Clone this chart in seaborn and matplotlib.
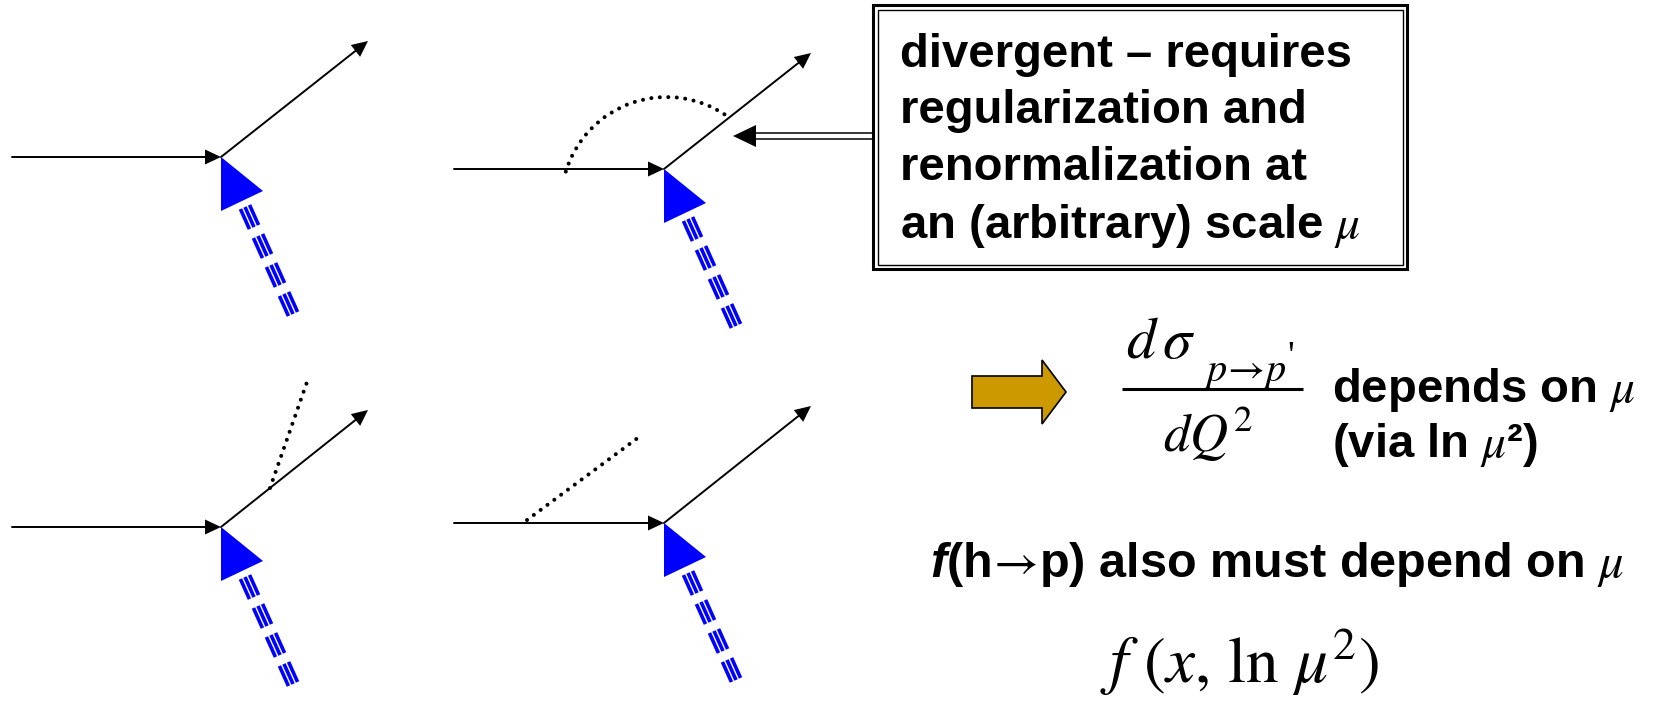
import numpy as np
import pandas as pd
import seaborn as sns
import matplotlib.pyplot as plt
from matplotlib.patches import Polygon, Rectangle, Arc

# Diagram data (pixel coordinates of the slide, y pointing down)
diagrams = ['tree', 'vertex correction', 'final-state gluon', 'initial-state gluon']
line_start = [(12, 157), (454, 169), (12, 527), (454, 523)]
vertex = [(221, 157), (664, 169), (221, 527), (664, 523)]
line_end = [(368, 41), (811, 53), (368, 410), (811, 406)]

# dotted gluon lines
gluon_lines = [((270, 488), (307, 382)), ((527, 520), (639, 437))]
gluon_arc = {'center': (666.6, 202.4), 'radius': 105.4, 'theta': (197, 305)}

# blue triangle (photon/probe) and triple dashed line, relative to the vertex
triangle_shape = [(0, 0), (42, 34), (0, 54)]
probe_start = (24, 50)
probe_end = (72, 157)
n_dashes = 4

box_lines = ['divergent \u2013 requires', 'regularization and',
             'renormalization at', r'an (arbitrary) scale $\mu$']
box_baselines = [67, 123, 180, 238]

W, H = 1654, 702

sns.set_theme(style='white')
plt.rcParams['font.family'] = ['Liberation Sans', 'DejaVu Sans']
plt.rcParams['mathtext.fontset'] = 'stix'
plt.rcParams['text.color'] = 'black'

fig = plt.figure(figsize=(W / 100, H / 100), dpi=100)
ax = fig.add_axes([0, 0, 1, 1])


def head(tip, direction, length=16, half=7.5, color='black'):
    d = np.asarray(direction, float)
    d = d / np.linalg.norm(d)
    n = np.array([-d[1], d[0]])
    tip = np.asarray(tip, float)
    base = tip - d * length
    ax.add_patch(Polygon([tip, base + n * half, base - n * half], closed=True,
                         facecolor=color, edgecolor='none', zorder=4))
    return base


# solid fermion lines through seaborn
rows = []
for i in range(len(diagrams)):
    s, v, e = np.array(line_start[i]), np.array(vertex[i]), np.array(line_end[i])
    b_in = head(v, v - s)
    b_out = head(e, e - v)
    rows += [(f'{i}a', s[0], s[1]), (f'{i}a', b_in[0] + 2, b_in[1]),
             (f'{i}b', v[0], v[1]), (f'{i}b', b_out[0], b_out[1])]
seg = pd.DataFrame(rows, columns=['seg', 'x', 'y'])
sns.lineplot(data=seg, x='x', y='y', units='seg', estimator=None, sort=False,
             color='black', lw=1.4, ax=ax, legend=False)

# blue triangles and triple dashed probe lines
u = np.subtract(probe_end, probe_start).astype(float)
total = np.linalg.norm(u)
u /= total
nrm = np.array([-u[1], u[0]])
dash = 22.0
period = (total - dash) / (n_dashes - 1)
for v in vertex:
    v = np.asarray(v, float)
    ax.add_patch(Polygon(v + np.array(triangle_shape), closed=True,
                         facecolor='#0000FF', edgecolor='none', zorder=3))
    p0 = v + np.array(probe_start)
    for k in range(n_dashes):
        a = p0 + u * period * k
        b = a + u * dash
        for off in (-5.0, 0, 5.0):
            ax.plot([a[0] + nrm[0] * off, b[0] + nrm[0] * off],
                    [a[1] + nrm[1] * off, b[1] + nrm[1] * off],
                    color='#0000FF', lw=2.6, solid_capstyle='butt')

# dotted gluons
dot_style = dict(color='black', lw=2.9, linestyle=(0, (0.01, 2.1)),
                 dash_capstyle='round')
for (x0, y0), (x1, y1) in gluon_lines:
    ax.plot([x0, x1], [y0, y1], **dot_style)
arc = Arc(gluon_arc['center'], 2 * gluon_arc['radius'], 2 * gluon_arc['radius'],
          theta1=gluon_arc['theta'][0], theta2=gluon_arc['theta'][1],
          edgecolor='black', lw=2.9, linestyle=(0, (0.01, 2.1)))
arc.set_capstyle('round')
ax.add_patch(arc)

# double-lined box with text
ax.add_patch(Rectangle((873, 5), 1407 - 873, 269 - 5, fill=False,
                       edgecolor='black', lw=2.2))
ax.add_patch(Rectangle((877.5, 9.5), 1402.5 - 877.5, 264.5 - 9.5, fill=False,
                       edgecolor='black', lw=1.0))
for txt, yb in zip(box_lines, box_baselines):
    ax.text(900, yb, txt, fontsize=34, fontweight='bold', va='baseline', ha='left')

# double arrow pointing from box to the loop
ax.plot([753, 873], [133.2, 133.2], color='black', lw=1.1)
ax.plot([753, 873], [138.6, 138.6], color='black', lw=1.1)
ax.add_patch(Polygon([(733, 136), (756, 125), (756, 147)], closed=True,
                     facecolor='black', edgecolor='none'))

# gold block arrow
ax.add_patch(Polygon([(972, 376), (1042, 376), (1042, 360), (1066, 392),
                      (1042, 424), (1042, 408), (972, 408)], closed=True,
                     facecolor='#CC9900', edgecolor='black', lw=1.2))

# d sigma / dQ^2
ax.text(1126, 358, r'$d\,\sigma$', fontsize=42, va='baseline', ha='left')
ax.text(1203, 381, r"$p\!\rightarrow\!p$", fontsize=29, va='baseline', ha='left')
ax.text(1287, 367, "'", fontsize=27, family='Liberation Serif', va='baseline', ha='left')
ax.plot([1122, 1303], [389, 389], color='black', lw=2.2, solid_capstyle='butt')
ax.text(1163, 452, r'$dQ^{2}$', fontsize=38, va='baseline', ha='left')

ax.text(1332, 402, r'depends on $\mu$', fontsize=34, fontweight='bold',
        va='baseline', ha='left')
ax.text(1332, 457, '(via ln $\\mu$\u00b2)', fontsize=34, fontweight='bold',
        va='baseline', ha='left')

# f(h->p) also must depend on mu
t_f = ax.text(930, 577, 'f', fontsize=35, fontweight='bold', fontstyle='italic',
              va='baseline', ha='left')
ax.set_xlim(0, W)
ax.set_ylim(H, 0)
ax.set_axis_off()
fig.canvas.draw()
bb = t_f.get_window_extent()
x_next = ax.transData.inverted().transform((bb.x1, bb.y0))[0]
ax.text(x_next, 577, r'(h$\!\rightarrow\!$p) also must depend on $\mu$',
        fontsize=35, fontweight='bold', va='baseline', ha='left')

ax.text(1100, 683, r'$f\ (x,\,\ln\,\mu^{2})$', fontsize=47, va='baseline', ha='left')

fig.savefig('out.png', dpi=100, facecolor='white')
